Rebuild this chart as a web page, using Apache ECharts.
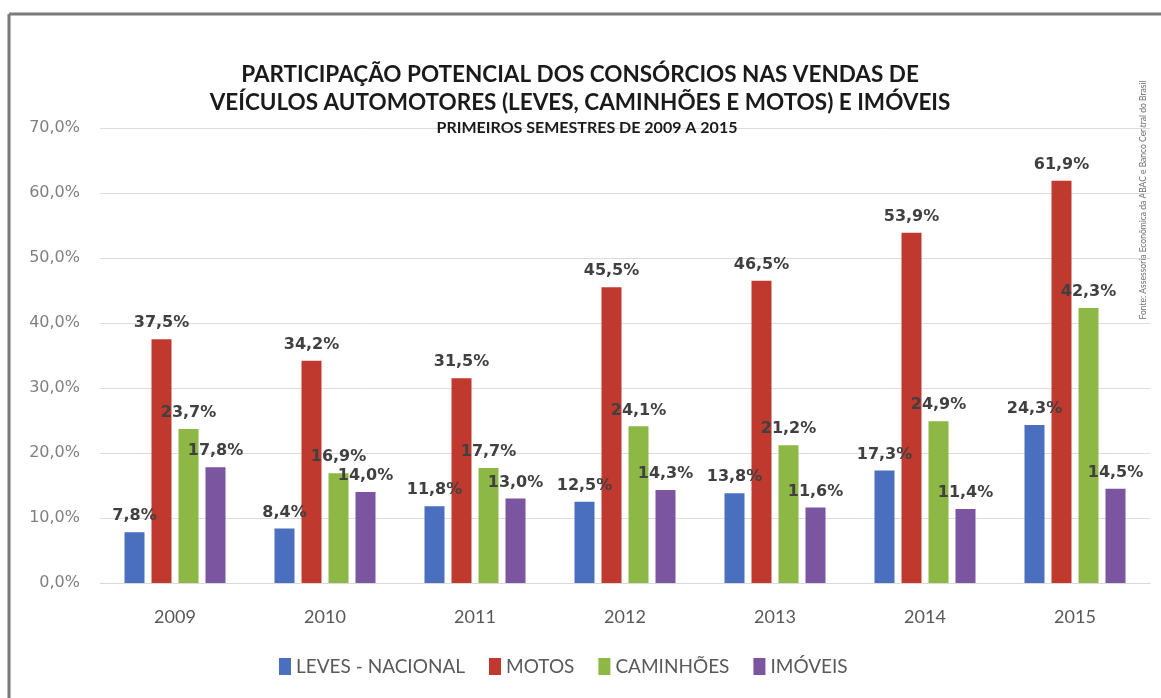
<!DOCTYPE html>
<html>
<head>
<meta charset="utf-8">
<script src="https://cdn.jsdelivr.net/npm/echarts@6/dist/echarts.min.js"></script>
<style>
  html, body { margin: 0; padding: 0; background: #fff; }
  #chart { width: 1161px; height: 698px; }
</style>
</head>
<body>
<div id="chart"></div>
<script>
// data (first semesters 2009-2015)
const years = ['2009', '2010', '2011', '2012', '2013', '2014', '2015'];
const leves = [7.8, 8.4, 11.8, 12.5, 13.8, 17.3, 24.3];
const motos = [37.5, 34.2, 31.5, 45.5, 46.5, 53.9, 61.9];
const caminhoes = [23.7, 16.9, 17.7, 24.1, 21.2, 24.9, 42.3];
const imoveis = [17.8, 14.0, 13.0, 14.3, 11.6, 11.4, 14.5];
const seriesNames = ['LEVES - NACIONAL', 'MOTOS', 'CAMINHÕES', 'IMÓVEIS'];
const colors = ['#4A6FBE', '#C0392F', '#8DB845', '#7B55A0'];

const calib = 'Lato, "Open Sans", sans-serif';
const fmt = v => v.toFixed(1).replace('.', ',') + '%';

const chart = echarts.init(document.getElementById('chart'));

function barSeries(name, data, i) {
    return {
        name: name,
        type: 'bar',
        data: data,
        barWidth: 20,
        barGap: '35%',
        itemStyle: { color: colors[i] },
        label: {
            show: true,
            position: 'top',
            distance: 8,
            formatter: p => fmt(p.value),
            fontFamily: '"DejaVu Sans", sans-serif',
            fontWeight: 'bold',
            fontSize: 16,
            color: '#404040'
        }
    };
}

const option = {
    backgroundColor: '#fff',
    animation: false,
    title: [
        {
            text: 'PARTICIPAÇÃO POTENCIAL DOS CONSÓRCIOS NAS VENDAS DE\nVEÍCULOS AUTOMOTORES (LEVES, CAMINHÕES E MOTOS) E IMÓVEIS',
            left: 575,
            top: 56,
            textAlign: 'center',
            textStyle: {
                fontFamily: calib,
                fontWeight: 'bold',
                fontSize: 22.5,
                lineHeight: 28,
                color: '#1a1a1a'
            }
        },
        {
            text: 'PRIMEIROS SEMESTRES DE 2009 A 2015',
            left: 582,
            top: 115,
            textAlign: 'center',
            textStyle: {
                fontFamily: calib,
                fontWeight: 'bold',
                fontSize: 16,
                color: '#1a1a1a'
            }
        }
    ],
    legend: {
        data: seriesNames,
        left: 274,
        top: 652,
        itemWidth: 12,
        itemHeight: 17,
        itemGap: 24,
        icon: 'rect',
        textStyle: {
            fontFamily: calib,
            fontSize: 19,
            color: '#595959'
        }
    },
    grid: {
        left: 100,
        right: 11,
        top: 128,
        bottom: 115
    },
    xAxis: {
        type: 'category',
        data: years,
        axisLine: { lineStyle: { color: '#d9d9d9', width: 1 } },
        axisTick: { show: false },
        axisLabel: {
            margin: 25,
            fontFamily: calib,
            fontSize: 18,
            color: '#595959'
        }
    },
    yAxis: {
        type: 'value',
        min: 0,
        max: 70,
        interval: 10,
        axisLine: { show: false },
        axisTick: { show: false },
        splitLine: { lineStyle: { color: '#dcdcdc', width: 1 } },
        axisLabel: {
            margin: 20,
            formatter: v => v.toFixed(1).replace('.', ',') + '%',
            fontFamily: '"DejaVu Sans", sans-serif',
            fontSize: 16,
            color: '#808080'
        }
    },
    graphic: [
        // frame lines of the original image (top and left only)
        {
            type: 'line',
            shape: { x1: 9, y1: 14, x2: 1161, y2: 14 },
            style: { stroke: '#7a7a7a', lineWidth: 3 }
        },
        {
            type: 'line',
            shape: { x1: 9, y1: 14, x2: 9, y2: 698 },
            style: { stroke: '#7a7a7a', lineWidth: 3 }
        },
        {
            type: 'text',
            x: 1143,
            y: 200,
            rotation: Math.PI / 2,
            style: {
                text: 'Fonte: Assessoria Econômica da ABAC e Banco Central do Brasil',
                fontFamily: calib,
                fontSize: 8.5,
                fill: '#6e6e6e',
                align: 'center',
                verticalAlign: 'middle'
            }
        }
    ],
    series: [
        barSeries(seriesNames[0], leves, 0),
        barSeries(seriesNames[1], motos, 1),
        barSeries(seriesNames[2], caminhoes, 2),
        barSeries(seriesNames[3], imoveis, 3)
    ]
};

chart.setOption(option);
</script>
</body>
</html>
